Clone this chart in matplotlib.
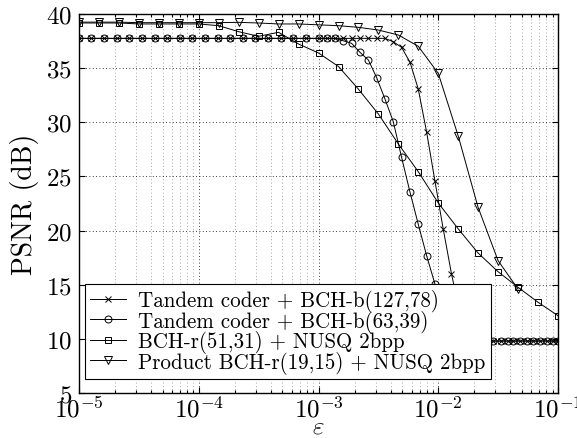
import matplotlib
matplotlib.use("Agg")
import matplotlib.pyplot as plt
from matplotlib.ticker import LogLocator, NullFormatter

plt.rcParams["font.family"] = ["cmr10", "DejaVu Serif"]
plt.rcParams["mathtext.fontset"] = "cm"
plt.rcParams["axes.formatter.use_mathtext"] = True
plt.rcParams["axes.unicode_minus"] = False

# shared error-rate grid of the two tandem curves
eps_tandem = [
    1.00e-5, 1.27e-5, 1.62e-5, 2.07e-5, 2.64e-5, 3.36e-5, 4.28e-5, 5.46e-5,
    6.95e-5, 8.86e-5, 1.13e-4, 1.44e-4, 1.83e-4, 2.33e-4, 2.97e-4, 3.79e-4,
    4.83e-4, 6.15e-4, 7.84e-4, 1.00e-3, 1.17e-3, 1.37e-3, 1.61e-3, 1.89e-3,
    2.22e-3, 2.61e-3, 3.06e-3, 3.59e-3, 4.21e-3, 4.94e-3, 5.81e-3, 6.81e-3,
    8.00e-3, 9.38e-3, 1.10e-2, 1.29e-2, 1.51e-2, 1.78e-2, 2.08e-2, 2.44e-2,
    2.87e-2, 3.36e-2, 3.80e-2, 4.24e-2, 4.82e-2, 5.47e-2, 6.22e-2, 7.08e-2,
    8.05e-2, 9.10e-2, 1.00e-1,
]
psnr_127 = [
    37.75, 37.75, 37.75, 37.75, 37.75, 37.75, 37.75, 37.75, 37.75, 37.75,
    37.75, 37.75, 37.75, 37.75, 37.75, 37.75, 37.75, 37.75, 37.75, 37.75,
    37.75, 37.75, 37.75, 37.75, 37.75, 37.75, 37.75, 37.75, 37.44, 36.92,
    35.54, 33.07, 29.08, 24.58, 20.15, 16.00, 12.50, 10.00, 9.80, 9.80,
    9.80, 9.80, 9.80, 9.80, 9.80, 9.80, 9.80, 9.80, 9.80, 9.80, 9.80,
]
psnr_63 = [
    37.75, 37.75, 37.75, 37.75, 37.75, 37.75, 37.75, 37.75, 37.75, 37.75,
    37.75, 37.75, 37.75, 37.75, 37.75, 37.75, 37.75, 37.75, 37.75, 37.75,
    37.75, 37.75, 37.53, 37.29, 36.46, 35.75, 34.12, 32.15, 30.06, 26.77,
    23.54, 20.58, 17.68, 15.07, 12.30, 10.20, 9.90, 9.80, 9.80, 9.80,
    9.80, 9.80, 9.80, 9.80, 9.80, 9.80, 9.80, 9.80, 9.80, 9.80, 9.80,
]

# sixth-of-a-decade grid for the BCH-r curves
eps_r = [
    1.00e-5, 1.47e-5, 2.15e-5, 3.16e-5, 4.64e-5, 6.81e-5, 1.00e-4, 1.47e-4,
    2.15e-4, 3.16e-4, 4.64e-4, 6.81e-4, 1.00e-3, 1.47e-3, 2.15e-3, 3.16e-3,
    4.64e-3, 6.81e-3, 1.00e-2, 1.47e-2, 2.15e-2, 3.16e-2, 4.64e-2, 6.81e-2,
    1.00e-1,
]
psnr_bch51 = [
    39.17, 39.17, 39.17, 39.08, 39.08, 39.08, 39.08, 38.92, 38.37, 37.94,
    38.31, 37.23, 36.40, 35.15, 33.07, 30.77, 28.00, 25.44, 22.55, 20.15,
    17.93, 16.20, 14.76, 13.38, 12.14,
]
psnr_product = [
    39.25, 39.25, 39.25, 39.20, 39.20, 39.20, 39.20, 39.20, 39.23, 39.17,
    39.08, 39.08, 39.00, 38.92, 38.77, 38.52, 38.06, 37.02, 34.52, 28.71,
    22.15, 17.22, 14.60,
]

labels = [
    "Tandem coder + BCH-b(127,78)",
    "Tandem coder + BCH-b(63,39)",
    "BCH-r(51,31) + NUSQ 2bpp",
    "Product BCH-r(19,15) + NUSQ 2bpp",
]

fig = plt.figure(figsize=(5.77, 4.39), dpi=100)
ax = fig.add_axes([79 / 577, 1 - 394 / 439, 479 / 577, 379 / 439])

style = dict(color="black", linewidth=0.7, markerfacecolor="none",
             markeredgewidth=0.7)
ax.plot(eps_tandem, psnr_127, marker="x", markersize=4, label=labels[0], **style)
ax.plot(eps_tandem, psnr_63, marker="o", markersize=5, label=labels[1], **style)
ax.plot(eps_r, psnr_bch51, marker="s", markersize=4.5, label=labels[2], **style)
ax.plot(eps_r[:len(psnr_product)], psnr_product, marker="v", markersize=6,
        label=labels[3], **style)

ax.set_xscale("log")
ax.set_xlim(1e-5, 1e-1)
ax.set_ylim(5, 40)
ax.set_yticks(range(5, 41, 5))
ax.xaxis.set_minor_locator(LogLocator(base=10, subs=range(2, 10)))
ax.xaxis.set_minor_formatter(NullFormatter())

ax.grid(which="major", linestyle=(0, (1, 3)), color="black", linewidth=0.6)
ax.grid(which="minor", axis="x", linestyle=(0, (1, 3)), color="0.55",
        linewidth=0.6)
ax.tick_params(which="both", direction="in", top=True, right=True,
               labelsize=18, width=0.8)
ax.tick_params(which="major", length=4)
ax.tick_params(axis="x", which="major", pad=2)
ax.tick_params(axis="y", which="major", pad=5)
ax.tick_params(which="minor", length=2)
for spine in ax.spines.values():
    spine.set_linewidth(1.0)

ax.set_ylabel("PSNR (dB)", fontsize=20, labelpad=5)
ax.set_xlabel(r"$\varepsilon$", fontsize=18, labelpad=-5)

leg = ax.legend(loc="lower left", bbox_to_anchor=(0.0125, 0.037), fontsize=15.1,
                fancybox=False, edgecolor="black", framealpha=1,
                handlelength=1.7, borderpad=0.25, labelspacing=-0.12,
                handletextpad=0.6, borderaxespad=0)
leg.get_frame().set_linewidth(0.8)

fig.savefig("out.png", dpi=100)
